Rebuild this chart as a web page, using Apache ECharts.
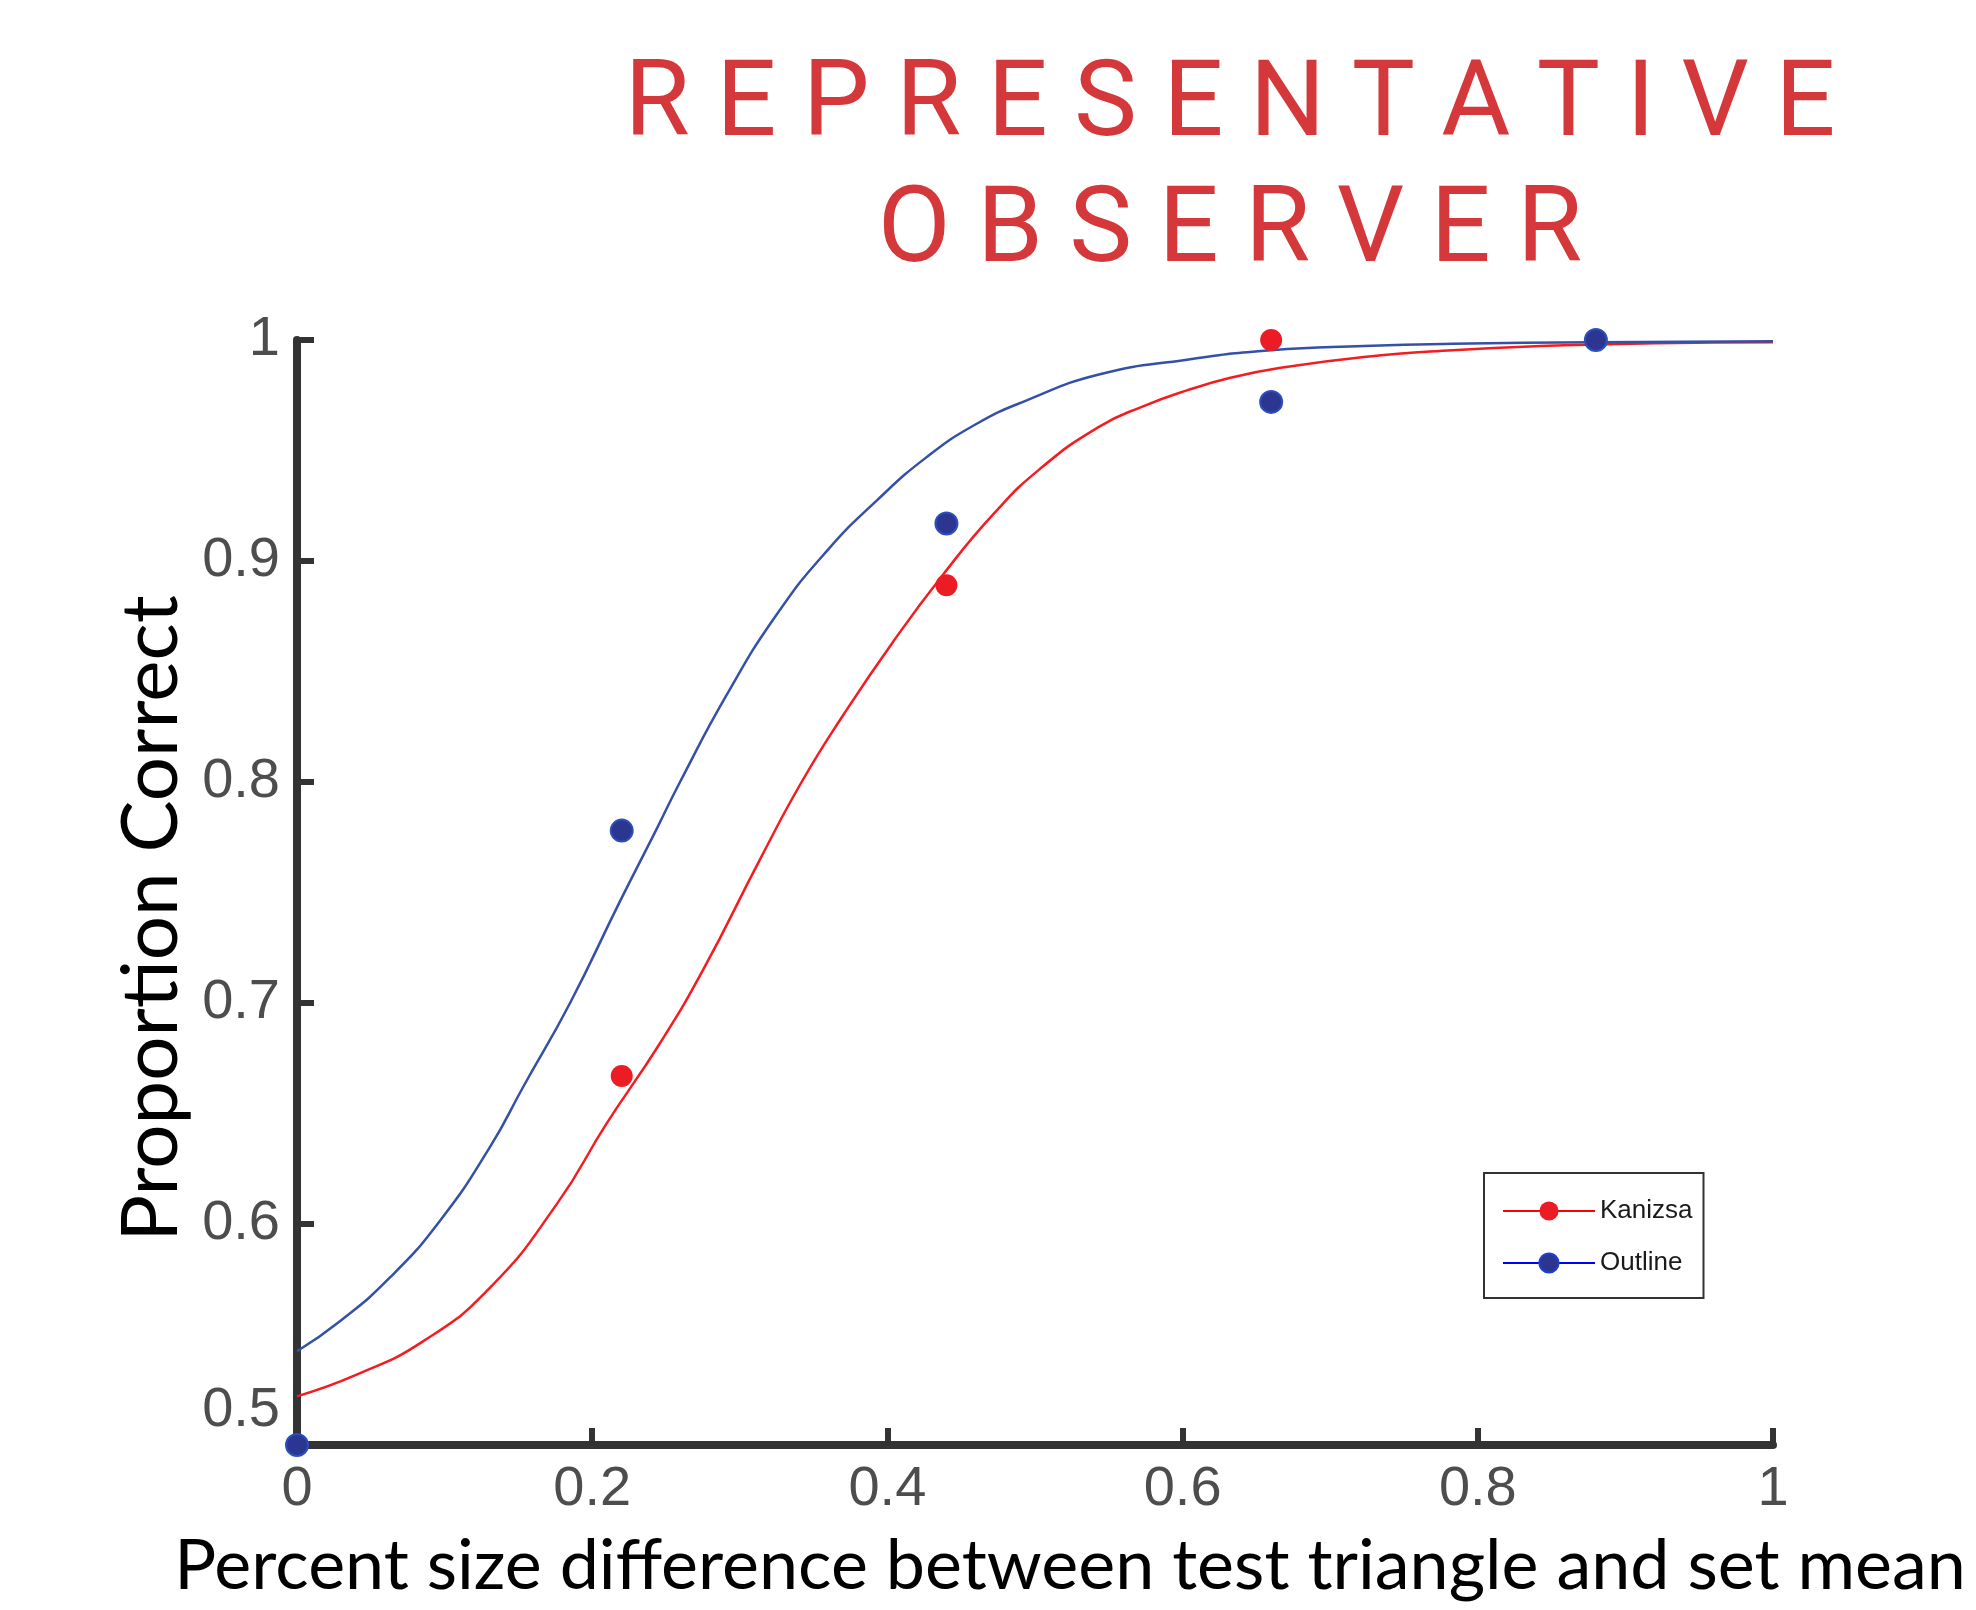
<!DOCTYPE html>
<html>
<head>
<meta charset="utf-8">
<script src="https://cdn.jsdelivr.net/npm/echarts@6/dist/echarts.min.js"></script>
<style>
html,body{margin:0;padding:0;background:#ffffff;}
#chart{width:1976px;height:1610px;}
</style>
</head>
<body>
<div id="chart"></div>
<script>
// ---- text ----
const titleLine1 = 'R E P R E S E N T A T I V E';
const titleLine2 = 'O B S E R V E R';
const xAxisTitle = 'Percent size difference between test triangle and set mean';
const yAxisTitle = 'Proportion Correct';
const seriesNames = ['Kanizsa', 'Outline'];

// ---- observed proportions ----
const sizeLevels = [0, 0.22, 0.44, 0.66, 0.88];
const kanizsaObserved = [0.5, 0.667, 0.889, 1.0, 1.0];
const outlineObserved = [0.5, 0.778, 0.917, 0.972, 1.0];

// ---- fitted psychometric curves ----
const kanizsaFitX = [0, 0.0404, 0.0856, 0.1308, 0.176, 0.2098, 0.2459, 0.2753, 0.3137, 0.3419, 0.3701, 0.404, 0.4379, 0.4718, 0.5034, 0.5433, 0.5732, 0.6029, 0.633, 0.6645, 0.7229, 0.7827, 0.8425, 0.92, 1.0];
const kanizsaFitY = [0.522, 0.5318, 0.547, 0.5712, 0.609, 0.6455, 0.6818, 0.7152, 0.765, 0.800, 0.8303, 0.8636, 0.894, 0.9212, 0.9417, 0.9607, 0.970, 0.9772, 0.983, 0.9872, 0.9923, 0.9954, 0.9973, 0.9985, 0.999];
const outlineFitX = [0, 0.0291, 0.063, 0.0969, 0.1308, 0.1533, 0.185, 0.2188, 0.2437, 0.2595, 0.2911, 0.325, 0.3589, 0.3927, 0.4266, 0.4605, 0.4944, 0.5433, 0.6029, 0.66, 0.7229, 0.7827, 0.88, 1.0];
const outlineFitY = [0.5424, 0.556, 0.5758, 0.6015, 0.6349, 0.6621, 0.700, 0.746, 0.7788, 0.800, 0.8394, 0.8758, 0.9045, 0.9273, 0.947, 0.9621, 0.9727, 0.9844, 0.9911, 0.9954, 0.9973, 0.9983, 0.999, 0.9994];

// ---- ticks ----
const xMin = 0, xMax = 1, xStep = 0.2;
const yMin = 0.5, yMax = 1, yStep = 0.1;

const zip = (xs, ys) => xs.map((x, i) => [x, ys[i]]);

const AXIS = '#333333';
const TICKFONT = 'Liberation Sans, Arial, Helvetica, sans-serif';
const TITLEFONT = 'Lato, "Open Sans", sans-serif';

const chart = echarts.init(document.getElementById('chart'), null, {renderer: 'canvas'});
chart.setOption({
  backgroundColor: '#ffffff',
  animation: false,
  grid: {left: 297, right: 203, top: 340, bottom: 165, containLabel: false, outerBoundsMode: 'none'},
  graphic: [
    {type: 'text', x: 1230, y: 108, style: {text: titleLine1, fill: '#d5383a', font: '106px Roboto, sans-serif', textAlign: 'center', textVerticalAlign: 'middle'}},
    {type: 'text', x: 1230, y: 234, style: {text: titleLine2, fill: '#d5383a', font: '106px Roboto, sans-serif', textAlign: 'center', textVerticalAlign: 'middle'}}
  ],
  legend: {
    left: 1484, top: 1173, orient: 'vertical',
    itemWidth: 92, itemHeight: 24, itemGap: 26,
    padding: [25, 11, 22, 18],
    borderColor: '#333333', borderWidth: 2, backgroundColor: '#ffffff',
    textStyle: {fontSize: 26, color: '#1a1a1a', fontFamily: TICKFONT},
    data: [
      {name: seriesNames[0], itemStyle: {color: '#ec1c24', borderWidth: 0}, lineStyle: {color: '#ff0000', width: 2}},
      {name: seriesNames[1], itemStyle: {color: '#2c3590', borderColor: '#1f3fd0', borderWidth: 2}, lineStyle: {color: '#0000ff', width: 2}}
    ]
  },
  xAxis: {
    type: 'value', min: xMin, max: xMax, interval: xStep,
    name: xAxisTitle, nameLocation: 'middle', nameGap: 86,
    nameTextStyle: {fontFamily: TITLEFONT, fontSize: 70, color: '#000000', padding: [0, 0, 0, 70]},
    axisLine: {show: true, onZero: false, lineStyle: {color: AXIS, width: 8}},
    axisTick: {show: true, inside: true, length: 17, lineStyle: {color: AXIS, width: 6}},
    axisLabel: {fontSize: 56, color: '#4d4d4d', fontFamily: TICKFONT, margin: 17},
    splitLine: {show: false}
  },
  yAxis: {
    type: 'value', min: yMin, max: yMax, interval: yStep,
    name: yAxisTitle, nameLocation: 'middle', nameGap: 105, nameRotate: 90,
    nameTextStyle: {fontFamily: TITLEFONT, fontSize: 78, color: '#000000', padding: [0, 52, 0, 0]},
    axisLine: {show: true, onZero: false, lineStyle: {color: AXIS, width: 8}},
    axisTick: {show: true, inside: true, length: 17, lineStyle: {color: AXIS, width: 6}},
    axisLabel: {
      fontSize: 56, color: '#4d4d4d', fontFamily: TICKFONT, margin: 17,
      formatter: v => (Math.abs(v - yMin) < 1e-9 ? '{lift|' + v + '}' : String(v)),
      rich: {lift: {fontSize: 56, color: '#4d4d4d', fontFamily: TICKFONT, padding: [0, 0, 68, 0]}}
    },
    splitLine: {show: false}
  },
  series: [
    {name: seriesNames[0], type: 'line', data: zip(kanizsaFitX, kanizsaFitY), smooth: 0.5, symbol: 'circle', showSymbol: false,
     lineStyle: {color: '#f41c20', width: 2.5}, itemStyle: {color: '#ec1c24'}, z: 3, silent: true},
    {name: seriesNames[1], type: 'line', data: zip(outlineFitX, outlineFitY), smooth: 0.5, symbol: 'circle', showSymbol: false,
     lineStyle: {color: '#3451a6', width: 2.5}, itemStyle: {color: '#2c3590'}, z: 3, silent: true},
    {name: seriesNames[0], type: 'scatter', data: zip(sizeLevels, kanizsaObserved), symbol: 'circle', symbolSize: 22, clip: false,
     itemStyle: {color: '#ec1c24', opacity: 1}, z: 4},
    {name: seriesNames[1], type: 'scatter', data: zip(sizeLevels, outlineObserved), symbol: 'circle', symbolSize: 22, clip: false,
     itemStyle: {color: '#2c3590', borderColor: '#2c4fc0', borderWidth: 2, opacity: 1}, z: 4}
  ]
});
</script>
</body>
</html>
